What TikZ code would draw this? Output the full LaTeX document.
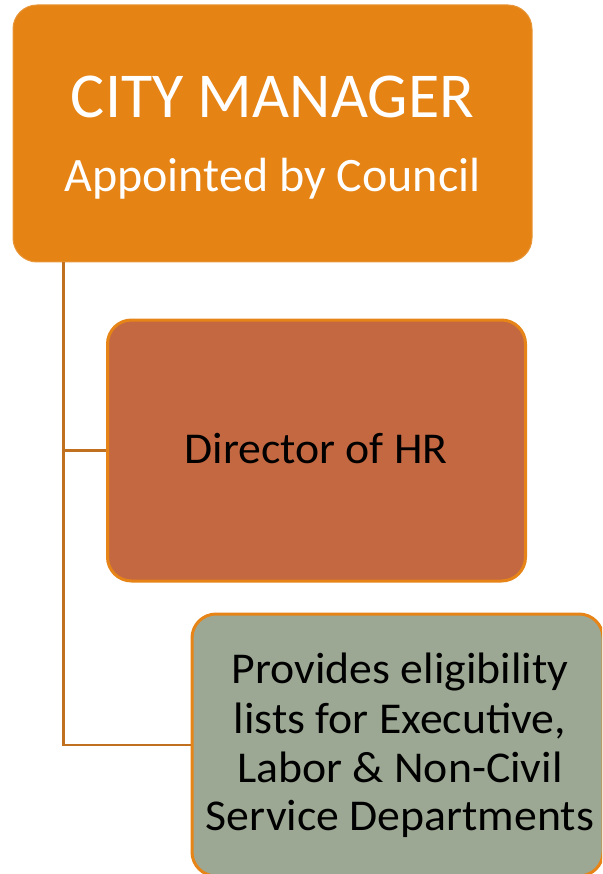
\documentclass[tikz,border=0pt]{standalone}
\usepackage{fontspec}
\setmainfont{Carlito}
\definecolor{mgrorange}{RGB}{229,131,21}
\definecolor{dirfill}{RGB}{196,104,65}
\definecolor{botfill}{RGB}{156,168,147}
\definecolor{connc}{RGB}{192,112,30}
\definecolor{edgeor}{RGB}{230,132,24}
\begin{document}
\begin{tikzpicture}[x=1pt,y=-1pt,
  box/.style={draw=edgeor, line width=3pt, rounded corners=24pt, inner sep=0pt},
  conn/.style={draw=connc, line width=2.5pt},
  txt/.style={inner sep=0pt, anchor=base},
  btxt/.style={txt, xscale=1.04, font=\fontsize{44}{50}\selectfont}]
\useasboundingbox (0,0) rectangle (602,874);
\clip (0,0) rectangle (602,874);
\node[box, draw=mgrorange!85!white, line width=1pt, fill=mgrorange, minimum width=519pt, minimum height=257pt] (top) at (272.5,133.5) {};
\node[box, fill=dirfill, minimum width=418pt, minimum height=261pt] (dir) at (316.5,450.5) {};
\node[box, fill=botfill, minimum width=411pt, minimum height=262pt] (bot) at (397.5,745) {};
\draw[conn] ([xshift=51pt]top.south west) |- (dir.west);
\draw[conn] ([xshift=51pt]top.south west) |- (bot.west);
\node[txt, text=white, font=\fontsize{64}{70}\selectfont] (t1) at (272.5,118) {CITY MANAGER};
\node[txt, text=white, font=\fontsize{48}{52}\selectfont] (t2) at (272.5,192) {Appointed by Council};
\node[btxt] (t3) at (316,463) {Director of HR};
\node[btxt] (b1) at (400,683) {Provides eligibility};
\node[btxt] (b2) at (400,733) {lists for Executive,};
\node[btxt] (b3) at (400,782) {Labor \& Non-Civil};
\node[btxt] (b4) at (400,830) {Service Departments};
\end{tikzpicture}
\end{document}
